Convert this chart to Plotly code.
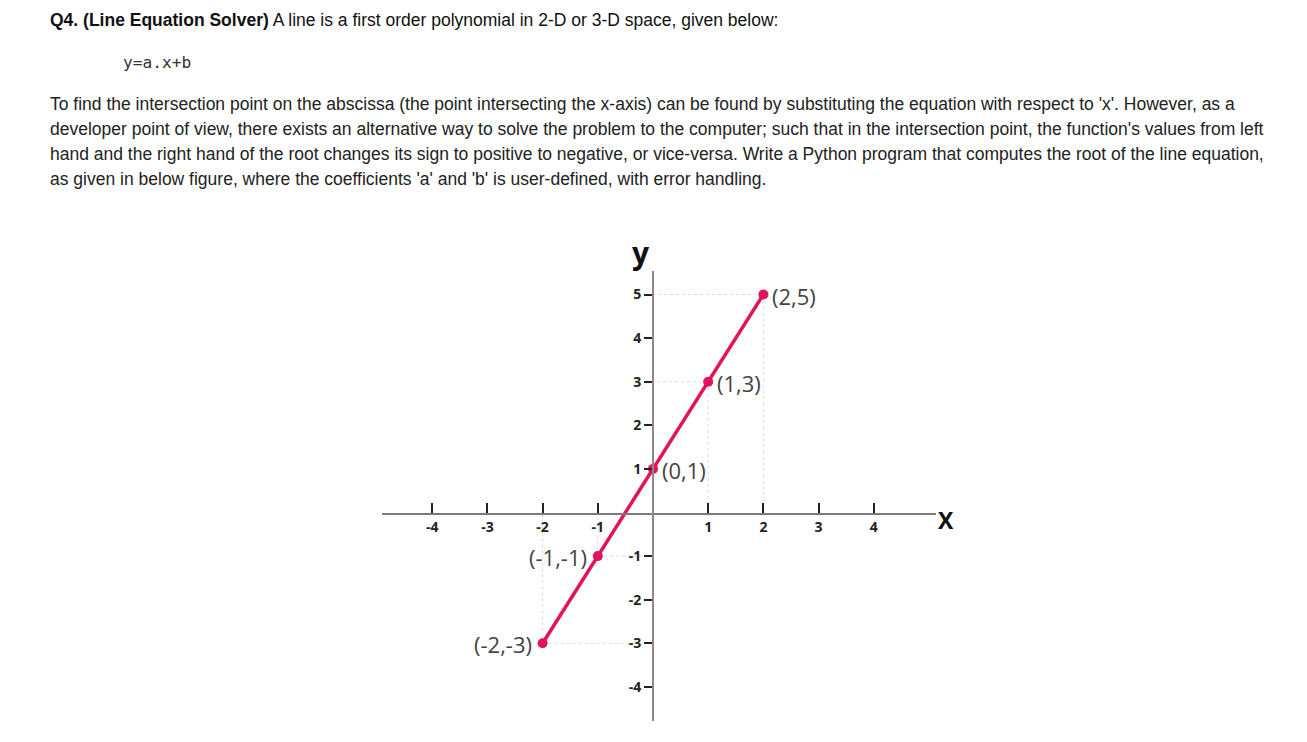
import plotly.graph_objects as go

# ---- data ----
point_x = [-2, -1, 0, 1, 2]
point_y = [-3, -1, 1, 3, 5]
point_labels = ["(-2,-3)", "(-1,-1)", "(0,1)", "(1,3)", "(2,5)"]
x_tick_vals = [-4, -3, -2, -1, 1, 2, 3, 4]
x_tick_text = ["-4", "-3", "-2", "-1", "1", "2", "3", "4"]
y_tick_vals = [5, 4, 3, 2, 1, -1, -2, -3, -4]
y_tick_text = ["5", "4", "3", "2", "1", "-1", "-2", "-3", "-4"]

heading_bold = "Q4. (Line Equation Solver)"
heading_rest = " A line is a first order polynomial in 2-D or 3-D space, given below:"
equation = "y=a.x+b"
paragraph = [
    "To find the intersection point on the abscissa (the point intersecting the x-axis) can be found by substituting the equation with respect to 'x'. However, as a",
    "developer point of view, there exists an alternative way to solve the problem to the computer; such that in the intersection point, the function's values from left",
    "hand and the right hand of the root changes its sign to positive to negative, or vice-versa. Write a Python program that computes the root of the line equation,",
    "as given in below figure, where the coefficients 'a' and 'b' is user-defined, with error handling.",
]

# ---- geometry (page pixels) ----
OFF = 8                     # page body margin
W, H = 1307 - OFF, 742 - OFF
ox, sx = 653.0, 55.2        # x origin pixel, px per unit
oy, sy = 512.5, 43.6        # y origin pixel, px per unit
x_left, x_right = 382.0, 936.0
y_top, y_bottom = 270.7, 721.0

def px(v):
    return (v - OFF) / W

def py(v):
    return 1 - (v - OFF) / H

LINE_COLOR = "#e0135c"
TEXT_COLOR = "#222222"
LABEL_COLOR = "#444444"

fig = go.Figure()

# dotted guide lines from points to axes
guide_x, guide_y = [], []
for x, y in zip(point_x, point_y):
    if x == 0:
        continue
    guide_x += [x, 0, None, x, x, None]
    guide_y += [y, y, None, y, 0, None]
fig.add_trace(go.Scatter(x=guide_x, y=guide_y, mode="lines",
                         line=dict(color="#dcdcdc", width=1, dash="dot"),
                         hoverinfo="skip", showlegend=False))

fig.add_trace(go.Scatter(
    x=point_x, y=point_y, mode="lines+markers",
    line=dict(color=LINE_COLOR, width=3.5),
    marker=dict(color=LINE_COLOR, size=10),
    showlegend=False, cliponaxis=False,
))

annotations = []
for x, y, t in zip(point_x, point_y, point_labels):
    right = x >= 0
    annotations.append(dict(
        x=x, y=y, xref="x", yref="y", text=t, showarrow=False,
        xanchor="left" if right else "right", yanchor="middle",
        xshift=7 if right else -9, yshift=-1,
        font=dict(family="Open Sans", size=22, color=LABEL_COLOR, weight=500),
    ))

annotations.append(dict(x=px(641), y=py(252), xref="paper", yref="paper", text="<b>y</b>",
                        showarrow=False, xanchor="center", yanchor="middle",
                        font=dict(family="Open Sans", size=30, color="#111111")))
annotations.append(dict(x=px(946), y=py(520), xref="paper", yref="paper", text="<b>X</b>",
                        showarrow=False, xanchor="center", yanchor="middle",
                        font=dict(family="Open Sans", size=23, color="#111111")))

annotations.append(dict(x=px(48), y=py(20), xref="paper", yref="paper",
                        text="<b>" + heading_bold + "</b>" + heading_rest,
                        showarrow=False, xanchor="left", yanchor="middle",
                        font=dict(family="Liberation Sans", size=17.5, color="#111111")))
annotations.append(dict(x=px(121), y=py(63), xref="paper", yref="paper", text=equation,
                        showarrow=False, xanchor="left", yanchor="middle",
                        font=dict(family="DejaVu Sans Mono", size=16.2, color="#333333")))
for i, line in enumerate(paragraph):
    annotations.append(dict(x=px(48), y=py(104 + 25 * i), xref="paper", yref="paper", text=line,
                            showarrow=False, xanchor="left", yanchor="middle",
                            font=dict(family="Liberation Sans", size=17.5, color=TEXT_COLOR)))

fig.update_layout(
    width=W, height=H, autosize=False,
    margin=dict(l=0, r=0, t=0, b=0),
    paper_bgcolor="white", plot_bgcolor="white",
    annotations=annotations,
    xaxis=dict(
        domain=[px(x_left), px(x_right)],
        range=[(x_left - ox) / sx, (x_right - ox) / sx],
        anchor="free", position=py(514),
        showline=True, linecolor="#7a7a7a", linewidth=1.5,
        ticks="inside", ticklen=10, tickwidth=1.6, tickcolor="#222222",
        tickvals=x_tick_vals, ticktext=x_tick_text,
        tickfont=dict(family="Open Sans", size=14, color=TEXT_COLOR, weight="bold"),
        showgrid=False, zeroline=False, fixedrange=True,
    ),
    yaxis=dict(
        domain=[py(y_bottom), py(y_top)],
        range=[(oy - y_bottom) / sy, (oy - y_top) / sy],
        anchor="free", position=px(ox),
        showline=True, linecolor="#8a8a8a", linewidth=2,
        ticks="outside", ticklen=8, tickwidth=1.6, tickcolor="#222222",
        tickvals=y_tick_vals, ticktext=y_tick_text,
        tickfont=dict(family="Open Sans", size=14, color=TEXT_COLOR, weight="bold"),
        showgrid=False, zeroline=False, fixedrange=True,
    ),
)

fig.write_html("out.html", config={"displayModeBar": False})
